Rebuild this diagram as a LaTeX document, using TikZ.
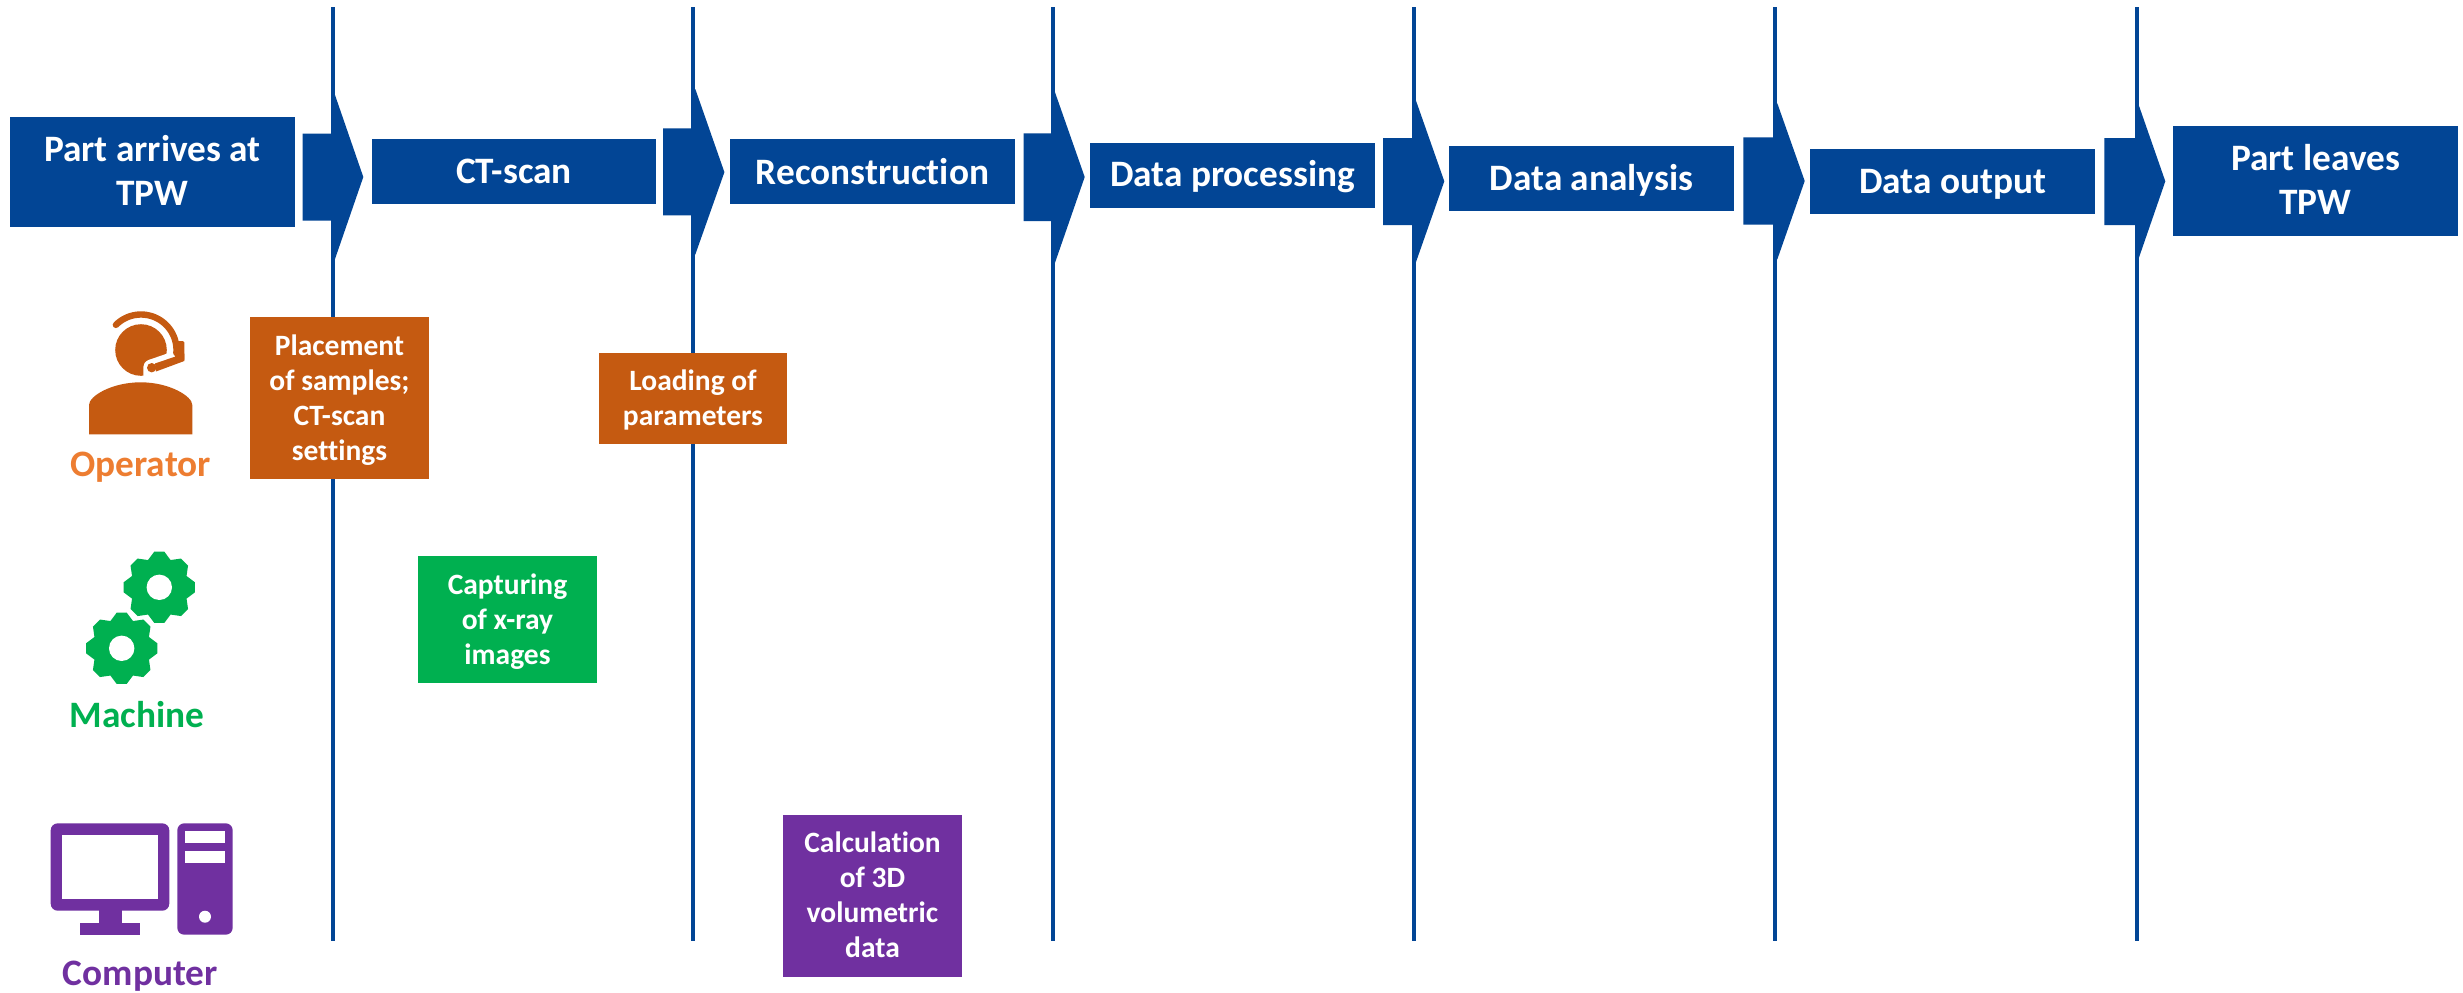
\documentclass[tikz,border=0pt]{standalone}
\usepackage{fontspec}
\setmainfont{Carlito}[Ligatures={NoCommon,TeX}]
\definecolor{flowblue}{HTML}{024595}
\definecolor{oprbox}{HTML}{C55A11}
\definecolor{oprtext}{HTML}{ED7D31}
\definecolor{machgreen}{HTML}{00B050}
\definecolor{pcpurple}{HTML}{7030A0}
\tikzset{
  basebox/.style={inner sep=0pt,outer sep=0pt,text=white},
  procbox/.style={basebox,fill=flowblue,minimum width=285pt,font=\fontsize{37.3}{44}\selectfont\bfseries},
  taskbox/.style={basebox,font=\fontsize{29.5}{35.2}\selectfont\bfseries},
  actor/.style={inner sep=0pt,anchor=base,font=\fontsize{37.3}{44}\selectfont\bfseries},
  divider/.style={draw=flowblue,line width=4pt},
}
% first baseline lies #1 above the centre of the node; lines are separated by \\
\newcommand{\boxtext}[2]{\raisebox{#1pt}[0pt][0pt]{\begin{tabular}[t]{@{}c@{}}#2\end{tabular}}}
% left, top, bottom, line centre, line right, head top, head bottom, tip x, tip y
\newcommand{\blockarrow}[9]{%
  \fill[flowblue] (#1,#2) -- (#4,#2) -- (#4,#6) -- (#5,#6) -- (#8,#9) -- (#5,#7) -- (#4,#7) -- (#4,#3) -- (#1,#3) -- cycle;}
\newcommand{\gearshape}[2]{%
  ({#1+29.5*cos(-22.5)},{#2-29.5*sin(-22.5)})
  \foreach \a in {0,45,...,315}{
    -- ({#1+36*cos(\a-8)},{#2-36*sin(\a-8)})
    -- ({#1+36*cos(\a+8)},{#2-36*sin(\a+8)})
    -- ({#1+29.5*cos(\a+22.5)},{#2-29.5*sin(\a+22.5)})
  } -- cycle}
\begin{document}
\begin{tikzpicture}[x=1pt,y=-1pt]
\useasboundingbox (0,0) rectangle (2463,993);
\fill[white] (0,0) rectangle (2463,993);
% dividers
\foreach \n/\x in {1/333,2/693.3,3/1053,4/1414,5/1775.3,6/2136.7}{
  \coordinate (vt\n) at (\x,7);
  \coordinate (vb\n) at (\x,941);
  \draw[divider] (vt\n) -- (vb\n);
}
% block arrows
\blockarrow{302.5}{133.7}{220.7}{333}{335}{95}{259}{363.3}{177}
\blockarrow{663}{128.3}{215.3}{693.3}{695.3}{89}{254.5}{724.4}{172.2}
\blockarrow{1023.7}{133.3}{221}{1053}{1055}{92.3}{262.7}{1084.7}{177}
\blockarrow{1383}{138}{225}{1414}{1416}{100.7}{262}{1444.3}{181.3}
\blockarrow{1743.3}{137.3}{224.7}{1775.3}{1777.3}{103.3}{259.3}{1804.7}{181}
\blockarrow{2104.3}{138}{225}{2136.7}{2138.7}{105}{258.3}{2165.3}{181.3}
% process boxes
\node[procbox,minimum height=110pt] (b1) at (152.5,172) {\boxtext{10.3}{Part arrives at\\TPW}};
\node[procbox,minimum width=284pt,minimum height=65pt] (b2) at (514,171.5) {\boxtext{-11.8}{CT-scan}};
\node[procbox,minimum height=65pt] (b3) at (872.5,171.5) {\boxtext{-12.5}{Reconstruction}};
\node[procbox,minimum height=65pt] (b4) at (1232.5,175.5) {\boxtext{-10.5}{Data processing}};
\node[procbox,minimum height=65pt] (b5) at (1591.5,178.5) {\boxtext{-12.2}{Data analysis}};
\node[procbox,minimum height=65pt] (b6) at (1952.5,181.5) {\boxtext{-11.8}{Data output}};
\node[procbox,minimum height=110pt] (b7) at (2315.5,181) {\boxtext{10.3}{Part leaves\\TPW}};
% task boxes
\node[taskbox,fill=oprbox,minimum width=179pt,minimum height=162pt] (t1) at (339.5,398) {\boxtext{43}{Placement\\of samples;\\CT-scan\\settings}};
\node[taskbox,fill=oprbox,minimum width=188pt,minimum height=91pt] (t2) at (693,398.5) {\boxtext{7.8}{Loading of\\parameters}};
\node[taskbox,fill=machgreen,minimum width=179pt,minimum height=126.7pt] (t3) at (507.5,619.3) {\boxtext{25.3}{Capturing\\of x-ray\\images}};
\node[taskbox,fill=pcpurple,minimum width=179pt,minimum height=162pt] (t4) at (872.5,896) {\boxtext{44}{Calculation\\of 3D\\volumetric\\data}};
% operator icon
\fill[oprbox] (89,434.3) -- (89,405) .. controls (89,396) and (112,382.3) .. (140.7,382.3) .. controls (169,382.3) and (192.3,396) .. (192.3,405) -- (192.3,434.3) -- cycle;
\fill[oprbox] (141,350) circle[radius=25.8pt];
\fill[white] (170,352.6) -- (148.5,360) .. controls (145,361.5) and (143.3,364) .. (143.3,367) -- (143.3,380) -- (175,380) -- cycle;
\draw[oprbox,line width=6.4pt,line cap=round] plot[domain=135:-5,samples=40] ({141+35.5*cos(\x)},{350-35.5*sin(\x)});
\fill[oprbox,rounded corners=1.5pt] (175,341) rectangle (184.3,361);
\fill[oprbox] (184.3,353.5) -- (184.3,361) -- (156,371.5) -- (155,363.5) -- cycle;
\fill[oprbox] (151.7,367.7) circle[radius=4.7pt];
% machine icon
\fill[machgreen] \gearshape{159.3}{587.3};
\fill[white] (159.3,587.3) circle[radius=12.7pt];
\draw[white,line width=5pt,line join=round] \gearshape{121.7}{648.3};
\fill[machgreen] \gearshape{121.7}{648.3};
\fill[white] (121.7,648.3) circle[radius=12.7pt];
% computer icon
\fill[pcpurple,rounded corners=7pt] (50.7,823.3) rectangle (169.3,910.7);
\fill[white] (62.3,835.3) rectangle (157.7,899);
\fill[pcpurple] (98.7,905) rectangle (122,923);
\fill[pcpurple] (80.3,922.7) rectangle (140,934.7);
\fill[pcpurple,rounded corners=7pt] (177.3,823.3) rectangle (232.7,934.7);
\fill[white] (185,831.3) rectangle (225,843.3);
\fill[white] (185,851.3) rectangle (225,863.3);
\fill[white] (205,916.7) circle[radius=6pt];
% actor labels
\node[actor,text=oprtext] (operator) at (140.7,476.7) {Operator};
\node[actor,text=machgreen] (machine) at (137,727.7) {Machine};
\node[actor,text=pcpurple] (computer) at (140.3,985.7) {Computer};
\end{tikzpicture}
\end{document}
